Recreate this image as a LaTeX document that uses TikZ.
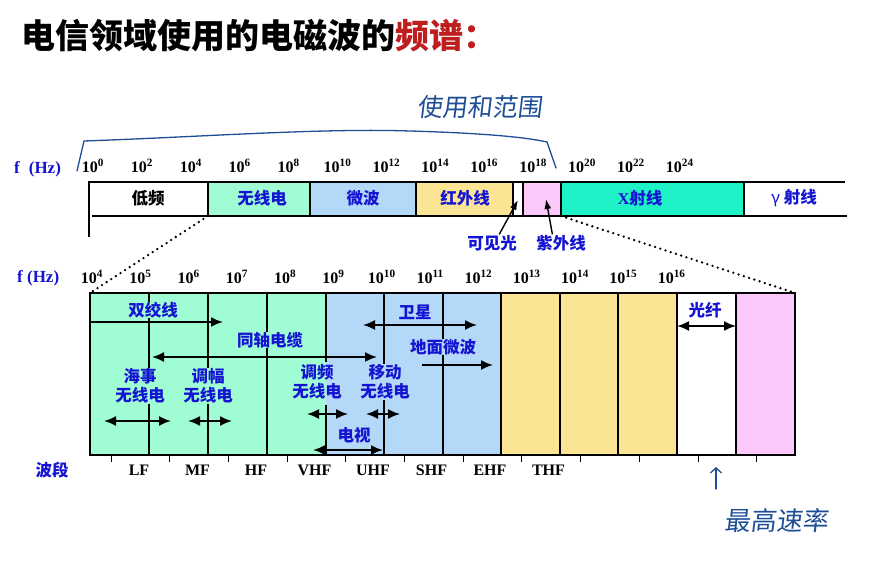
\documentclass[tikz,border=0pt]{standalone}
\usepackage{fontspec}
\setmainfont{Liberation Serif}
\newfontfamily\cjk{Noto Sans CJK SC}
\newfontfamily\handcjk{Noto Sans CJK SC}[FakeSlant=0.12]
\usetikzlibrary{arrows.meta}
\definecolor{specblue}{HTML}{1414D2}
\definecolor{specred}{HTML}{BE1E1E}
\definecolor{handblue}{HTML}{1E4E96}
\definecolor{radiomint}{HTML}{A0FCD2}
\definecolor{microsky}{HTML}{B4D8F8}
\definecolor{infrasand}{HTML}{FBE595}
\definecolor{uvpink}{HTML}{FDC9FD}
\definecolor{xteal}{HTML}{1EF2C6}

\begin{document}
\begin{tikzpicture}[
  x=1pt, y=-1pt,
  num/.style={font=\bfseries\fontsize{16}{16}\selectfont, inner sep=0pt},
  freqlbl/.style={font=\bfseries\fontsize{17}{17}\selectfont, text=specblue, inner sep=0pt},
  lbl/.style={font=\cjk\bfseries\fontsize{16.5}{19}\selectfont, text=specblue, align=center, inner sep=0.5pt},
  divider/.style={line width=1.6pt},
  rim/.style={line width=2pt},
  tickmark/.style={line width=1pt},
  spanarrow/.style={{Latex[length=12pt,width=10pt]}-{Latex[length=12pt,width=10pt]}, line width=1.8pt},
  reacharrow/.style={-{Latex[length=12pt,width=10pt]}, line width=1.8pt},
  ptr/.style={-{Latex[length=10pt,width=7pt]}, line width=1.4pt},
  zoomline/.style={dash pattern=on 0pt off 5.5pt, line cap=round, line width=2.6pt},
  hand/.style={handblue, line width=1.3pt, line cap=round, line join=round},
  handtext/.style={font=\handcjk\fontsize{25}{25}\selectfont, text=handblue, inner sep=0pt}
]
\useasboundingbox (0,0) rectangle (892,567);

\node[anchor=west, inner sep=0pt, font=\cjk\bfseries\fontsize{34}{34}\selectfont] (title) at (21,36)
  {电信领域使用的电磁波的\textcolor{specred}{频谱：}};

% handwritten note over the used range
\draw[hand] (77,171) -- (84,141) .. controls (200,137) and (320,128) .. (410,131)
  .. controls (480,133) and (525,137) .. (547,142) -- (556,168);
\node[handtext] (usage) at (480,107) {使用和范围};

% upper bar: whole spectrum
\fill[radiomint] (208,182) rectangle (310,216);
\fill[microsky] (310,182) rectangle (416,216);
\fill[infrasand] (416,182) rectangle (513,216);
\fill[uvpink] (523,182) rectangle (561,216);
\fill[xteal] (561,182) rectangle (744,216);
\draw[divider] (89,182) -- (845,182);
\draw[divider] (92,216) -- (847,216);
\draw[divider] (89,181.2) -- (89,237);
\foreach \x in {208,310,416,513,523,561,744}
  \draw[divider] (\x,182) -- (\x,216);

\node[freqlbl, anchor=west] (fhzTop) at (14,169) {f\hspace{9pt}(Hz)};
\foreach \k [count=\i from 0] in {0,2,...,24}
  \node[num] (top\k) at ({93+48.9*\i},166) {10\textsuperscript{\k}};

\node[lbl, text=black] (lowf) at (148,198) {低频};
\node[lbl] (radio) at (262,198) {无线电};
\node[lbl] (micro) at (363,198) {微波};
\node[lbl] (infra) at (465,198) {红外线};
\node[lbl] (xray) at (640,198) {{\rmfamily X}射线};
\node[lbl] (gamma) at (794,198) {{\mdseries γ} 射线};

\node[lbl] (vis) at (492,243) {可见光};
\node[lbl] (uv) at (561,243) {紫外线};
\coordinate (visgap) at (518,200);
\coordinate (uvbox) at (546,199);
\draw[ptr] (vis.50) -- (visgap);
\draw[ptr] (uv.135) -- (uvbox);

% zoom lines to the lower bar
\coordinate (radioL) at (208,216);
\coordinate (uvR) at (561,216);
\coordinate (boxNW) at (90,293);
\coordinate (boxNE) at (795,293);
\draw[zoomline] (radioL) -- (boxNW);
\draw[zoomline] (uvR) -- (boxNE);

% lower bar: 10^4 .. 10^16
\fill[radiomint] (90,293) rectangle (326,455);
\fill[microsky] (326,293) rectangle (501,455);
\fill[infrasand] (501,293) rectangle (677,455);
\fill[uvpink] (736,293) rectangle (795,455);
\foreach \x in {149,208,267,384,443,501,560,618,677,736}
  \draw[divider] (\x,293) -- (\x,455);
\draw[divider] (326,293) -- (326,362);
\draw[divider] (326,405) -- (326,455);
\draw[rim] (boxNW) rectangle (795,455);
\foreach \i in {0,...,11}
  \draw[tickmark] ({111+58.7*\i},455) -- ++(0,7);

\node[freqlbl, anchor=west] (fhzLow) at (17,278) {f (Hz)};
\foreach \k [count=\i from 0] in {4,...,16}
  \node[num] (low\k) at ({92+48.3*\i},277) {10\textsuperscript{\k}};

\node[lbl, fill=radiomint] (twisted) at (153,310) {双绞线};
\node[lbl, fill=radiomint] (coax) at (270,340) {同轴电缆};
\node[lbl, fill=microsky] (sat) at (415,312) {卫星};
\node[lbl, fill=microsky] (terr) at (443,347) {地面微波};
\node[lbl, fill=radiomint] (marine) at (140,386) {海事\\无线电};
\node[lbl, fill=radiomint] (am) at (208,386) {调幅\\无线电};
\node[lbl] (fm) at (317,382) {调频\\无线电};
\node[lbl, fill=microsky] (mobile) at (385,382) {移动\\无线电};
\node[lbl] (tv) at (354,435) {电视};
\node[lbl] (fiber) at (705,310) {光纤};

% ranges
\coordinate (twA) at (90,322);   \coordinate (twB) at (223,322);
\coordinate (coA) at (152,357);  \coordinate (coB) at (377,357);
\coordinate (saA) at (363,325);  \coordinate (saB) at (477,325);
\coordinate (teA) at (422,365);  \coordinate (teB) at (493,365);
\coordinate (maA) at (104,421);  \coordinate (maB) at (171,421);
\coordinate (amA) at (188,421);  \coordinate (amB) at (232,421);
\coordinate (fmA) at (307,414);  \coordinate (fmB) at (348,414);
\coordinate (moA) at (366,414);  \coordinate (moB) at (400,414);
\coordinate (tvA) at (313,450);  \coordinate (tvB) at (383,450);
\coordinate (fiA) at (677,326);  \coordinate (fiB) at (736,326);
\draw[reacharrow] (twA) -- (twB);
\draw[spanarrow] (coA) -- (coB);
\draw[spanarrow] (saA) -- (saB);
\draw[reacharrow] (teA) -- (teB);
\draw[spanarrow] (maA) -- (maB);
\draw[spanarrow] (amA) -- (amB);
\draw[spanarrow] (fmA) -- (fmB);
\draw[spanarrow] (moA) -- (moB);
\draw[spanarrow] (tvA) -- (tvB);
\draw[spanarrow] (fiA) -- (fiB);

\node[lbl] (bandname) at (52,470) {波段};
\foreach \b [count=\i from 0] in {LF,MF,HF,VHF,UHF,SHF,EHF,THF}
  \node[num] (band\b) at ({139+58.5*\i},470) {\b};

% handwritten note under the fibre band
\node[handtext, font=\handcjk\fontsize{26}{26}\selectfont] (rate) at (776,521) {最高速率};
\coordinate (rateTail) at (716,489);
\coordinate (ratePeak) at (716,467);
\draw[hand, -{Straight Barb[length=5pt,width=11pt]}] (rateTail) -- (ratePeak);

\end{tikzpicture}
\end{document}
